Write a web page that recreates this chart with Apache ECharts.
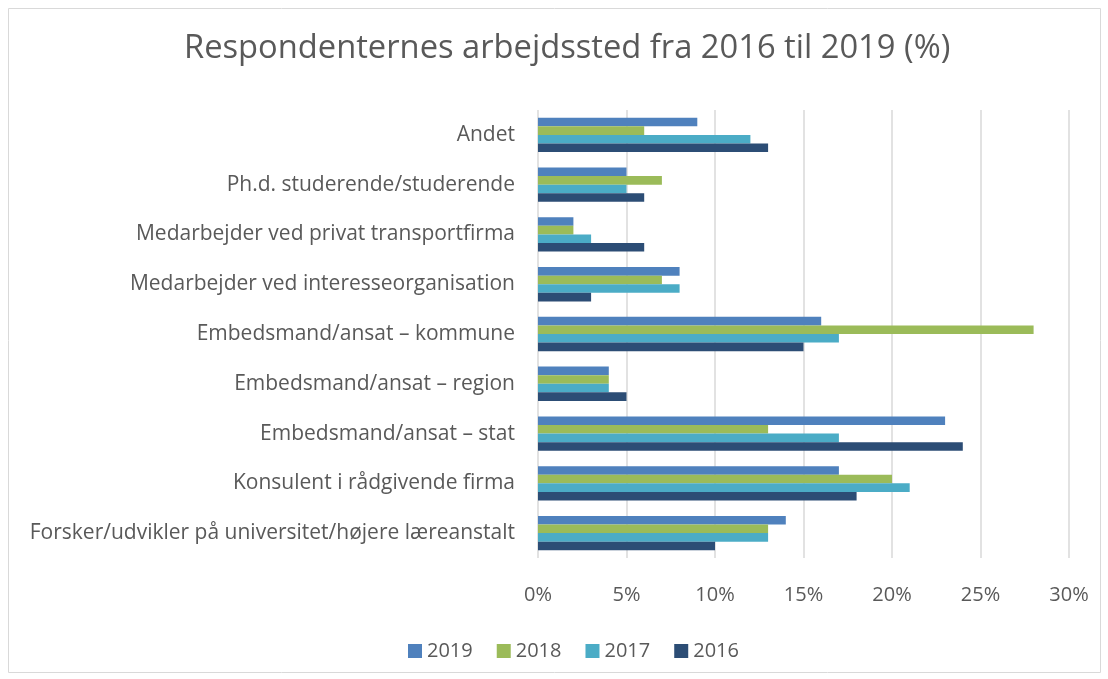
<!DOCTYPE html>
<html>
<head>
<meta charset="utf-8">
<script src="https://cdn.jsdelivr.net/npm/echarts@6/dist/echarts.min.js"></script>
<style>
  html, body { margin: 0; padding: 0; background: #fff; }
  #echart { width: 1108px; height: 679px; }
</style>
</head>
<body>
<div id="echart"></div>
<script>
var dom = document.getElementById("echart");
var myChart = echarts.init(dom);

// categories, top to bottom
let categories = [
    'Andet',
    'Ph.d. studerende/studerende',
    'Medarbejder ved privat transportfirma',
    'Medarbejder ved interesseorganisation',
    'Embedsmand/ansat – kommune',
    'Embedsmand/ansat – region',
    'Embedsmand/ansat – stat',
    'Konsulent i rådgivende firma',
    'Forsker/udvikler på universitet/højere læreanstalt'
];
let years = ['2019', '2018', '2017', '2016'];
let v2019 = [9, 5, 2, 8, 16, 4, 23, 17, 14];
let v2018 = [6, 7, 2, 7, 28, 4, 13, 20, 13];
let v2017 = [12, 5, 3, 8, 17, 4, 17, 21, 13];
let v2016 = [13, 6, 6, 3, 15, 5, 24, 18, 10];
let xTicks = [0, 5, 10, 15, 20, 25, 30];

let colors = ['#4F81BD', '#9BBB59', '#4BACC6', '#2C4D75'];
let font = 'Open Sans';
let seriesData = [v2019, v2018, v2017, v2016];

let series = years.map(function (y, i) {
    return {
        name: y,
        type: 'bar',
        data: seriesData[i],
        barGap: '0%',
        barCategoryGap: '31%',
        itemStyle: { color: colors[i] }
    };
});

var option = {
    animation: false,
    color: colors,
    title: {
        text: 'Respondenternes arbejdssted fra 2016 til 2019 (%)',
        left: 179,
        top: 27,
        textStyle: { fontFamily: font, fontSize: 32.7, fontWeight: 'normal', color: '#595959' }
    },
    legend: {
        data: years,
        top: 636,
        left: 403,
        itemWidth: 14,
        itemHeight: 14,
        itemGap: 24,
        icon: 'rect',
        textStyle: { fontFamily: font, fontSize: 20, color: '#595959' }
    },
    grid: { left: 538, right: 39, top: 110, bottom: 121 },
    xAxis: {
        type: 'value',
        min: xTicks[0],
        max: xTicks[xTicks.length - 1],
        interval: 5,
        axisLine: { show: false },
        axisTick: { show: false },
        axisLabel: {
            margin: 27,
            fontFamily: font,
            fontSize: 20,
            color: '#595959',
            formatter: '{value}%'
        },
        splitLine: { lineStyle: { color: '#d9d9d9', width: 1.5 } }
    },
    yAxis: {
        type: 'category',
        inverse: true,
        data: categories,
        axisLine: { show: false },
        axisTick: { show: false },
        axisLabel: { margin: 23, fontFamily: font, fontSize: 21, color: '#595959' }
    },
    graphic: [{
        type: 'rect',
        shape: { x: 8.5, y: 8.5, width: 1092, height: 664 },
        style: { fill: 'none', stroke: '#d9d9d9', lineWidth: 1 },
        silent: true
    }],
    series: series
};

if (option && typeof option === 'object') {
    myChart.setOption(option);
}
</script>
</body>
</html>
